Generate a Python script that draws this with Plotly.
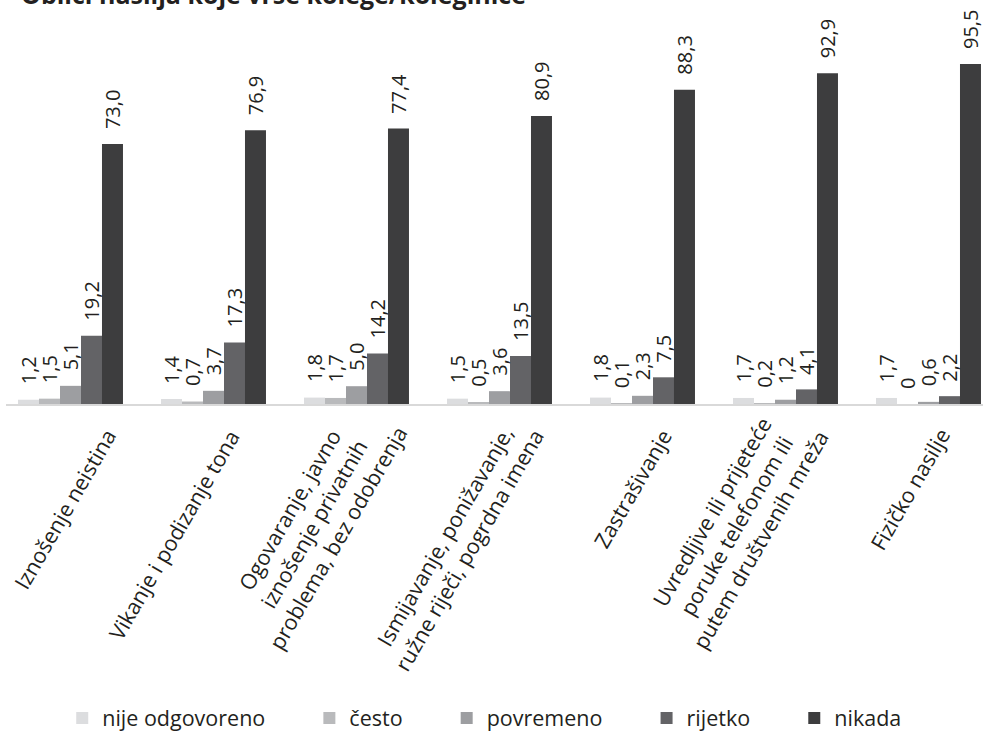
import plotly.graph_objects as go

# Forms of violence by colleagues, share of answers per category (%)
categories = [
    "Iznošenje neistina",
    "Vikanje i podizanje tona",
    "Ogovaranje, javno<br>iznošenje privatnih<br>problema, bez odobrenja",
    "Ismijavanje, ponižavanje,<br>ružne riječi, pogrdna imena",
    "Zastrašivanje",
    "Uvredljive ili prijeteće<br>poruke telefonom ili<br>putem društvenih mreža",
    "Fizičko nasilje",
]
series_names = ["nije odgovoreno", "često", "povremeno", "rijetko", "nikada"]
nije_odgovoreno = [1.2, 1.4, 1.8, 1.5, 1.8, 1.7, 1.7]
cesto = [1.5, 0.7, 1.7, 0.5, 0.1, 0.2, 0]
povremeno = [5.1, 3.7, 5.0, 3.6, 2.3, 1.2, 0.6]
rijetko = [19.2, 17.3, 14.2, 13.5, 7.5, 4.1, 2.2]
nikada = [73.0, 76.9, 77.4, 80.9, 88.3, 92.9, 95.5]
value_labels = [
    ["1,2", "1,4", "1,8", "1,5", "1,8", "1,7", "1,7"],
    ["1,5", "0,7", "1,7", "0,5", "0,1", "0,2", "0"],
    ["5,1", "3,7", "5,0", "3,6", "2,3", "1,2", "0,6"],
    ["19,2", "17,3", "14,2", "13,5", "7,5", "4,1", "2,2"],
    ["73,0", "76,9", "77,4", "80,9", "88,3", "92,9", "95,5"],
]
title_text = "Oblici nasilja koje vrše kolege/koleginice"

series = [nije_odgovoreno, cesto, povremeno, rijetko, nikada]
colors = ["#dcdddf", "#b9babc", "#9d9ea1", "#636366", "#3d3d3e"]
TEXT = "#231f20"
FONT = "Open Sans"

# pixel nudges for the slanted category labels (x, y)
label_dx = [55, 35, 60, 53, 38, 52, 31]
label_dy = [-17, -18, 14, -4, -17, 10, -16]

BARGAP = 0.266
n_series = len(series)
bar_w = (1 - BARGAP) / n_series
xs = list(range(len(categories)))

fig = go.Figure()
legend_pad = "\u00a0" * 7
for k, (name, vals, col) in enumerate(zip(series_names, series, colors)):
    fig.add_trace(go.Bar(
        x=xs, y=vals,
        name=name + (legend_pad if k < n_series - 1 else ""),
        marker=dict(color=col, line=dict(width=0)),
        hoverinfo="skip",
    ))

annotations = []
# value labels above each bar, rotated
for k, vals in enumerate(series):
    off = (k - (n_series - 1) / 2) * bar_w
    for i, v in enumerate(vals):
        annotations.append(dict(
            x=i + off, y=v, xref="x", yref="y",
            text=value_labels[k][i], showarrow=False,
            textangle=-90, xanchor="center", yanchor="bottom",
            yshift=13, font=dict(family=FONT, size=20, color=TEXT),
        ))

# category labels under the axis, slanted
for i, cat in enumerate(categories):
    annotations.append(dict(
        x=i, y=0, xref="x", yref="y",
        text=cat, showarrow=False, textangle=-60, align="center",
        xanchor="right", yanchor="top", xshift=label_dx[i], yshift=label_dy[i],
        font=dict(family=FONT, size=21.5, color=TEXT),
    ))

# chart title
annotations.append(dict(
    x=0, y=1, xref="paper", yref="paper", text="<b>" + title_text + "</b>",
    showarrow=False, xanchor="left", yanchor="bottom", xshift=13, yshift=35,
    font=dict(family=FONT, size=25, color=TEXT),
))

fig.update_layout(
    width=983, height=731,
    margin=dict(l=6, r=0, t=48, b=327, autoexpand=False),
    paper_bgcolor="white", plot_bgcolor="white",
    barmode="group", bargap=BARGAP, bargroupgap=0,
    font=dict(family=FONT, size=20, color=TEXT),
    xaxis=dict(
        range=[(6 - 70.5) / 143, (983 - 70.5) / 143],
        showticklabels=False, showgrid=False, zeroline=False,
        showline=True, linecolor="#d9d9d9", linewidth=2, ticks="",
    ),
    yaxis=dict(range=[0, 100], visible=False),
    legend=dict(
        orientation="h", x=0.49, xanchor="center", y=(731 - 718 - 327) / 356,
        yanchor="middle", yref="paper",
        font=dict(family=FONT, size=21.5, color=TEXT),
        bgcolor="rgba(0,0,0,0)",
    ),
    annotations=annotations,
    showlegend=True,
)

fig.write_html("out.html")
